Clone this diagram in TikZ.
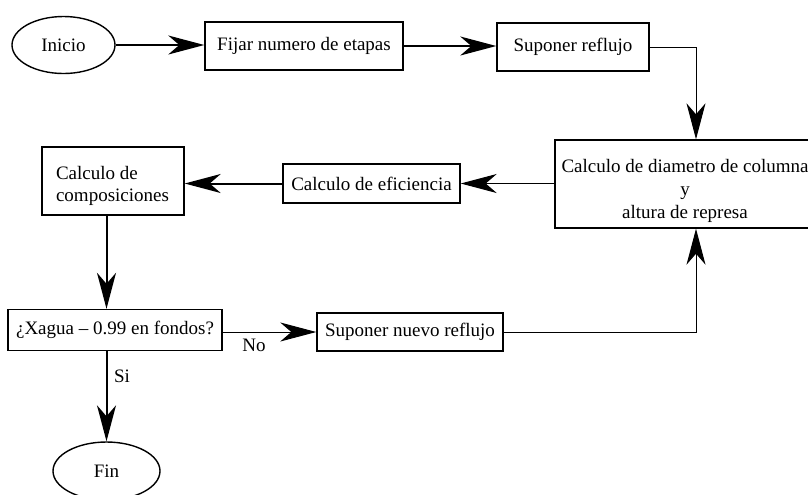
\documentclass[tikz,border=0pt]{standalone}
\usepackage{fontspec}
\setmainfont{Liberation Serif}
\usetikzlibrary{shapes.geometric,arrows.meta}
\begin{document}
\begin{tikzpicture}[x=0.5pt,y=-0.5pt,
  every node/.style={font=\fontsize{9.5}{10.75}\selectfont},
  box/.style={draw,line width=0.7pt,inner sep=0pt,align=center},
  txt/.style={inner sep=0pt,font=\fontsize{9.5}{11.4}\selectfont},
  oval/.style={draw,ellipse,line width=0.7pt,inner sep=0pt,minimum width=51.5pt,minimum height=28.5pt},
  tip/.style={-{Stealth[length=18pt,width=9.5pt,inset=5.5pt]}},
  thickc/.style={line width=1pt,tip},
  thinc/.style={line width=0.5pt,tip},
]
\useasboundingbox (0,0) rectangle (808,494);
\clip (0,0) rectangle (808,494);
\node[oval] (ini) at (63.5,45) {Inicio};
\node[box,minimum width=99pt,minimum height=24pt] (fij) at (304,46) {Fijar numero de etapas};
\node[box,minimum width=76pt,minimum height=24pt] (sup) at (573,47) {Suponer reflujo};
\node[box,minimum width=130pt,minimum height=44pt] (dia) at (685,184) {};
\node[txt,align=center] (diat) at (685,191) {Calculo de diametro de columna\\y\\altura de represa};
\node[box,minimum width=88.5pt,minimum height=19.5pt] (efi) at (371.5,183.5) {Calculo de eficiencia};
\node[box,minimum width=71pt,minimum height=34pt] (com) at (113,181) {};
\node[txt,align=left] (comt) at (112.5,186) {Calculo de\\composiciones};
\node[box,minimum width=107pt,minimum height=20.5pt] (dec) at (115,330) {¿Xagua -- 0.99 en fondos?};
\node[box,minimum width=93pt,minimum height=19pt] (nue) at (410,332) {Suponer nuevo reflujo};
\node[oval,minimum width=53.5pt,minimum height=29pt] (fin) at (106.5,471) {Fin};
\node (si) at (122,376) {Si};
\node (no) at (254,345) {No};
\draw[thickc] (ini.east) -- (ini.east -| fij.west);
\draw[thickc] (fij.east) -- (fij.east -| sup.west);
\draw[thinc] (sup.east) -| ([xshift=5.5pt]dia.north);
\draw[thinc] (dia.west |- efi) -- (efi.east);
\draw[thickc] (efi.west) -- (efi.west -| com.east);
\draw[thickc] (com.south -| fin) -- (dec.north -| fin);
\draw[thinc] (dec.east |- nue) -- (nue.west);
\draw[thinc] (nue.east) -| ([xshift=5.5pt]dia.south);
\draw[thickc] (dec.south -| fin) -- (fin.north);
\end{tikzpicture}
\end{document}
